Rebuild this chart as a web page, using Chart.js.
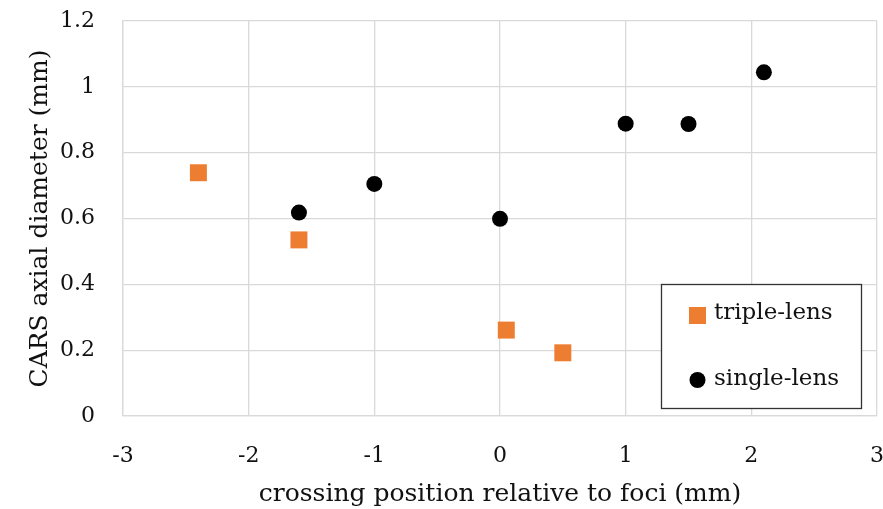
<!DOCTYPE html>
<html>
<head>
<meta charset="utf-8">
<script src="https://cdn.jsdelivr.net/npm/chart.js@4/dist/chart.umd.min.js"></script>
<style>
html,body{margin:0;padding:0;background:#fff;}
#wrap{width:883px;height:509px;position:relative;}
</style>
</head>
<body>
<div id="wrap"><canvas id="c" width="883" height="509"></canvas></div>
<script>
const tripleX = [-2.4, -1.6, 0.05, 0.5];
const tripleY = [0.739, 0.535, 0.261, 0.192];
const singleX = [-1.6, -1.0, 0.0, 1.0, 1.5, 2.1];
const singleY = [0.618, 0.705, 0.599, 0.888, 0.887, 1.044];
const seriesNames = ['triple-lens', 'single-lens'];
const xTitle = 'crossing position relative to foci (mm)';
const yTitle = 'CARS axial diameter (mm)';

const FONT = "'DejaVu Serif', 'Liberation Serif', serif";
const ORANGE = '#ED7D31';

const legendBox = {
  id: 'legendBox',
  afterDraw(chart) {
    const ctx = chart.ctx;
    ctx.save();
    const x0 = 661.5, y0 = 284.5, w = 200, h = 124;
    ctx.fillStyle = '#fff';
    ctx.fillRect(x0, y0, w, h);
    ctx.strokeStyle = '#333';
    ctx.lineWidth = 1.3;
    ctx.strokeRect(x0, y0, w, h);
    ctx.fillStyle = ORANGE;
    ctx.fillRect(689, 307, 17, 17);
    ctx.fillStyle = '#000';
    ctx.beginPath();
    ctx.arc(697.5, 380, 8, 0, Math.PI * 2);
    ctx.fill();
    ctx.fillStyle = '#111';
    ctx.font = '23px ' + FONT;
    ctx.textBaseline = 'middle';
    ctx.textAlign = 'left';
    ctx.fillText(seriesNames[0], 714, 313);
    ctx.fillText(seriesNames[1], 714, 379);
    ctx.restore();
  }
};

function zeroPad(s) {
  s.paddingLeft = 0; s.paddingRight = 0; s.paddingTop = 0; s.paddingBottom = 0;
}

new Chart(document.getElementById('c'), {
  type: 'scatter',
  data: {
    datasets: [
      {
        label: seriesNames[0],
        data: tripleX.map((x, i) => ({x, y: tripleY[i]})),
        pointStyle: 'rect',
        pointRadius: 12,
        pointHoverRadius: 12,
        backgroundColor: ORANGE,
        borderColor: ORANGE,
        borderWidth: 0
      },
      {
        label: seriesNames[1],
        data: singleX.map((x, i) => ({x, y: singleY[i]})),
        pointStyle: 'circle',
        pointRadius: 8,
        pointHoverRadius: 8,
        backgroundColor: '#000',
        borderColor: '#000',
        borderWidth: 0
      }
    ]
  },
  options: {
    responsive: false,
    animation: false,
    events: [],
    layout: { autoPadding: false, padding: { top: 21, right: 6, left: 0, bottom: 0 } },
    plugins: { legend: { display: false }, tooltip: { enabled: false } },
    scales: {
      x: {
        type: 'linear',
        min: -3, max: 3,
        ticks: { stepSize: 1, color: '#111', font: { family: FONT, size: 22 }, padding: 27 },
        grid: { color: '#d9d9d9', lineWidth: 1.3, drawTicks: false },
        border: { color: '#d9d9d9', width: 1.3 },
        title: { display: true, text: xTitle, color: '#111', font: { family: FONT, size: 25 }, padding: { top: 10, bottom: 0 } },
        afterFit(s) { s.height = 93; zeroPad(s); }
      },
      y: {
        min: 0, max: 1.2,
        ticks: { stepSize: 0.2, color: '#111', font: { family: FONT, size: 22 }, padding: 28,
          callback: v => Math.round(v * 10) / 10 },
        grid: { color: '#d9d9d9', lineWidth: 1.3, drawTicks: false },
        border: { color: '#d9d9d9', width: 1.3 },
        title: { display: true, text: yTitle, color: '#111', font: { family: FONT, size: 25 }, padding: { top: 25, bottom: 0 } },
        afterFit(s) { s.width = 123; zeroPad(s); }
      }
    }
  },
  plugins: [legendBox]
});
</script>
</body>
</html>
